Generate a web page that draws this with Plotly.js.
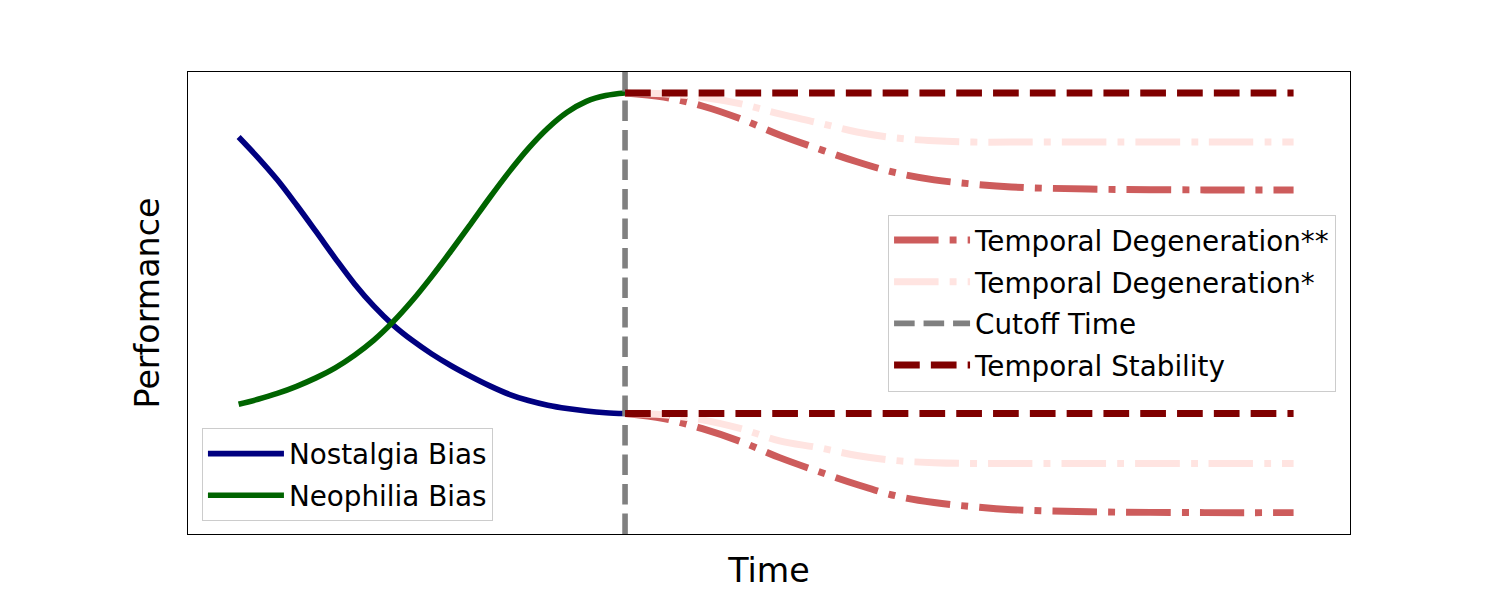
<!DOCTYPE html>
<html>
<head>
<meta charset="utf-8">
<script src="https://cdn.plot.ly/plotly-3.0.1.min.js"></script>
<style>
  html, body { margin: 0; padding: 0; background: #ffffff; }
  #chart { width: 1500px; height: 600px; }
</style>
</head>
<body>
<div id="chart"></div>
<script>
// ---- Data ----
const leftTimes = [0, 0.5, 1, 1.5, 2, 2.5, 3, 3.5, 4, 4.5, 5, 5.5, 6, 6.5, 7, 7.5, 8, 8.5, 9, 9.5, 10];
const nostalgia = [0.895, 0.846, 0.793, 0.733, 0.670, 0.606, 0.545, 0.492, 0.447, 0.410, 0.378,
                   0.350, 0.325, 0.302, 0.282, 0.267, 0.256, 0.248, 0.242, 0.238, 0.236];
const neophilia = [0.258, 0.270, 0.284, 0.301, 0.321, 0.345, 0.375, 0.411, 0.455, 0.506, 0.563,
                   0.624, 0.687, 0.751, 0.812, 0.868, 0.916, 0.954, 0.980, 0.994, 1.000];

const rightTimes = [10, 11, 12, 13, 14, 15, 16, 17, 18, 19, 20, 22, 25, 27.3];
const degen2High = [1.000, 0.990, 0.969, 0.938, 0.900, 0.867, 0.836, 0.810, 0.793, 0.783, 0.776, 0.771, 0.769, 0.769];
const degen2Low  = [0.236, 0.224, 0.200, 0.169, 0.131, 0.098, 0.067, 0.040, 0.024, 0.014, 0.007, 0.002, 0.000, 0.000];
const degen1High = [1.000, 0.998, 0.990, 0.974, 0.950, 0.929, 0.907, 0.893, 0.886, 0.883, 0.883, 0.883, 0.883, 0.883];
const degen1Low  = [0.236, 0.233, 0.221, 0.200, 0.171, 0.155, 0.136, 0.124, 0.119, 0.117, 0.117, 0.117, 0.117, 0.117];

const stabilityTimes = [10, 27.3];
const stabilityHigh = [1.000, 1.000];
const stabilityLow  = [0.236, 0.236];

const cutoffTime = 10;

const seriesNames = {
  nostalgia: 'Nostalgia Bias',
  neophilia: 'Neophilia Bias',
  degen2: 'Temporal Degeneration**',
  degen1: 'Temporal Degeneration*',
  cutoff: 'Cutoff Time',
  stability: 'Temporal Stability'
};
const axisTitles = { x: 'Time', y: 'Performance' };

// ---- Axis ranges (matched to the reference frame) ----
const xRange = [-1.31, 28.76];
const yRange = [-0.051, 1.050];

const FONT = 'DejaVu Sans, Verdana, sans-serif';
const DASH_STAB = '25.7px,11.1px';
const DASH_CUT = '20.6px,8.9px';
const DASH_DOT = '44.5px,11.1px,6.9px,11.1px';

const traces = [
  { x: leftTimes, y: nostalgia, name: seriesNames.nostalgia, mode: 'lines', legend: 'legend', legendgroup: 'g1',
    line: { color: '#000080', width: 5.6, shape: 'spline', smoothing: 1 } },
  { x: leftTimes, y: neophilia, name: seriesNames.neophilia, mode: 'lines', legend: 'legend', legendgroup: 'g2',
    line: { color: '#006400', width: 5.6, shape: 'spline', smoothing: 1 } },

  { x: rightTimes, y: degen2High, name: seriesNames.degen2, mode: 'lines', legend: 'legend2', legendgroup: 'g3',
    line: { color: '#CD5C5C', width: 6.95, dash: DASH_DOT, shape: 'spline' } },
  { x: rightTimes, y: degen2Low, name: seriesNames.degen2, mode: 'lines', legend: 'legend2', legendgroup: 'g3', showlegend: false,
    line: { color: '#CD5C5C', width: 6.95, dash: DASH_DOT, shape: 'spline' } },

  { x: rightTimes, y: degen1High, name: seriesNames.degen1, mode: 'lines', legend: 'legend2', legendgroup: 'g4',
    line: { color: '#FFE4E1', width: 6.95, dash: DASH_DOT, shape: 'spline' } },
  { x: rightTimes, y: degen1Low, name: seriesNames.degen1, mode: 'lines', legend: 'legend2', legendgroup: 'g4', showlegend: false,
    line: { color: '#FFE4E1', width: 6.95, dash: DASH_DOT, shape: 'spline' } },

  { x: [cutoffTime, cutoffTime], y: yRange, name: seriesNames.cutoff, mode: 'lines', legend: 'legend2', legendgroup: 'g5',
    line: { color: '#808080', width: 5.6, dash: DASH_CUT } },

  { x: stabilityTimes, y: stabilityHigh, name: seriesNames.stability, mode: 'lines', legend: 'legend2', legendgroup: 'g6',
    line: { color: '#800000', width: 6.95, dash: DASH_STAB } },
  { x: stabilityTimes, y: stabilityLow, name: seriesNames.stability, mode: 'lines', legend: 'legend2', legendgroup: 'g6', showlegend: false,
    line: { color: '#800000', width: 6.95, dash: DASH_STAB } }
];

const legendCommon = {
  bgcolor: 'rgba(255,255,255,0.8)',
  bordercolor: '#cccccc',
  borderwidth: 1,
  font: { family: FONT, size: 27.8, color: '#000000' },
  tracegroupgap: 2.5,
  itemwidth: 76,
  itemclick: false,
  itemdoubleclick: false
};

const layout = {
  width: 1500,
  height: 600,
  paper_bgcolor: '#ffffff',
  plot_bgcolor: '#ffffff',
  margin: { l: 188, r: 150, t: 72, b: 66, pad: 0 },
  font: { family: FONT, color: '#000000' },
  showlegend: true,
  xaxis: {
    range: xRange, showgrid: false, zeroline: false, showticklabels: false, ticks: '',
    showline: true, mirror: true, linecolor: '#000000', linewidth: 1.1, automargin: false,
    title: { text: axisTitles.x, font: { family: FONT, size: 33.3, color: '#000000' }, standoff: 24 }
  },
  yaxis: {
    range: yRange, showgrid: false, zeroline: false, showticklabels: false, ticks: '',
    showline: true, mirror: true, linecolor: '#000000', linewidth: 1.1, automargin: false,
    title: { text: axisTitles.y, font: { family: FONT, size: 33.3, color: '#000000' }, standoff: 17 }
  },
  legend: Object.assign({}, legendCommon, { x: 0.012, y: 0.028, xanchor: 'left', yanchor: 'bottom' }),
  legend2: Object.assign({}, legendCommon, { x: 0.988, y: 0.5, xanchor: 'right', yanchor: 'middle' })
};

Plotly.newPlot('chart', traces, layout, { displayModeBar: false, staticPlot: true });
</script>
</body>
</html>
